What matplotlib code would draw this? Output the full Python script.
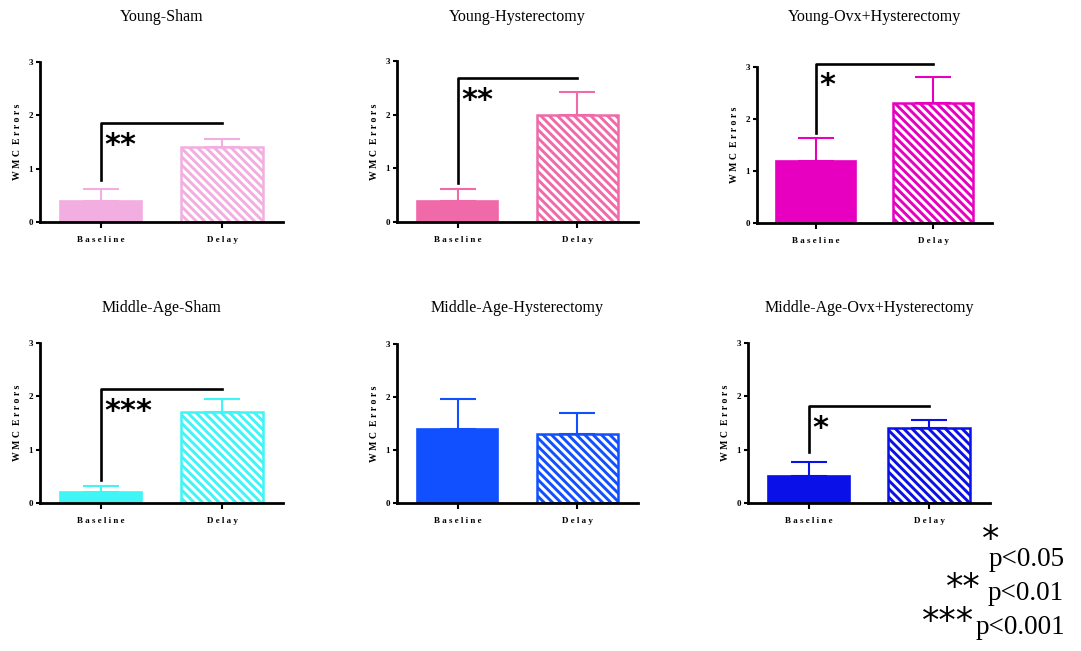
import numpy as np
import matplotlib
matplotlib.use('Agg')
from matplotlib import pyplot as plt

# data
titles = ['Young-Sham', 'Young-Hysterectomy', 'Young-Ovx+Hysterectomy',
          'Middle-Age-Sham', 'Middle-Age-Hysterectomy', 'Middle-Age-Ovx+Hysterectomy']
conditions = ['B a s e l i n e', 'D e l a y']
baseline = [0.4, 0.4, 1.2, 0.2, 1.4, 0.5]
baseline_err = [0.22, 0.22, 0.43, 0.12, 0.56, 0.26]
delay = [1.4, 2.0, 2.3, 1.7, 1.3, 1.4]
delay_err = [0.16, 0.42, 0.51, 0.25, 0.39, 0.16]
# significance brackets: (bottom of left leg, height of bar, stars)
brackets = [(0.78, 1.85, '**'), (0.73, 2.68, '**'), (1.73, 3.06, '*'),
            (0.43, 2.14, '***'), None, (0.96, 1.82, '*')]
colors = ['#F2AEE0', '#F06AAA', '#E800C0', '#3FF5F5', '#1050FF', '#0A10E8']
legend_stars = ['*', '**', '***']
legend_p = ['p<0.05', 'p<0.01', 'p<0.001']

W, H = 1081, 651
# axes boxes in pixels: left, right, top, bottom
boxes = [(40, 283, 62, 222), (397, 638, 61, 222), (757, 992, 67, 223),
         (40, 283, 343, 503), (397, 638, 344, 503), (748, 990, 343, 503)]
title_y = [17, 17, 17, 308, 308, 308]

plt.rcParams['hatch.linewidth'] = 2.1
serif = ['Liberation Serif', 'DejaVu Serif']

fig = plt.figure(figsize=(W/100, H/100), dpi=100)

for i in range(6):
	l, r, t, b = boxes[i]
	ax = fig.add_axes([l/W, 1 - b/H, (r-l)/W, (b-t)/H])
	c = colors[i]
	x = np.arange(2)
	ax.bar(0, baseline[i], width=0.68, color=c, edgecolor=c, linewidth=1.2, zorder=2)
	ax.bar(1, delay[i], width=0.68, color='white', edgecolor=c, hatch='\\'*4,
	       linewidth=1.8, zorder=2)
	ax.errorbar(x, [baseline[i], delay[i]],
	            yerr=[[0, 0], [baseline_err[i], delay_err[i]]],
	            fmt='none', ecolor=c, elinewidth=1.5, capsize=13, capthick=1.5, zorder=1)
	ax.set_xlim(-0.505, 1.505)
	ax.set_ylim(0, 3)
	ax.set_yticks([0, 1, 2, 3])
	ax.set_yticklabels(['0', '1', '2', '3'], fontsize=6.5, fontweight='bold', family=serif)
	ax.set_xticks(x)
	ax.set_xticklabels(conditions, fontsize=6.5, fontweight='bold', family=serif)
	ax.tick_params(axis='x', length=4, width=1.5, pad=6)
	ax.tick_params(axis='y', length=3, width=1.5, pad=2)
	for s in ['top', 'right']:
		ax.spines[s].set_visible(False)
	for s in ['left', 'bottom']:
		ax.spines[s].set_linewidth(2)
	ax.set_ylabel('W M C  E r r o r s', fontsize=7, fontweight='bold', family=serif, labelpad=5)
	fig.text((l + r)/2/W, 1 - title_y[i]/H, titles[i], fontsize=11.5, family=serif,
	         ha='center', va='center')
	if brackets[i] is not None:
		lo, hi, st = brackets[i]
		ax.plot([0, 0, 1], [lo, hi, hi], color='black', lw=1.9, clip_on=False, zorder=3)
		ax.text(0.03, hi - 0.42, st, fontsize=22, fontweight='bold', ha='left', va='center',
		        family='DejaVu Sans', clip_on=False)

# significance key
star_right = [999, 981, 974]
star_y = [540, 588, 622]
p_left = [989, 988, 976]
p_y = [559, 594, 628]
for k in range(3):
	fig.text(star_right[k]/W, 1 - star_y[k]/H, legend_stars[k], fontsize=25,
	         ha='right', va='center', family='DejaVu Sans')
	fig.text(p_left[k]/W, 1 - p_y[k]/H, legend_p[k], fontsize=19.5,
	         ha='left', va='center', family=serif)

plt.savefig('out.png', dpi=100)
